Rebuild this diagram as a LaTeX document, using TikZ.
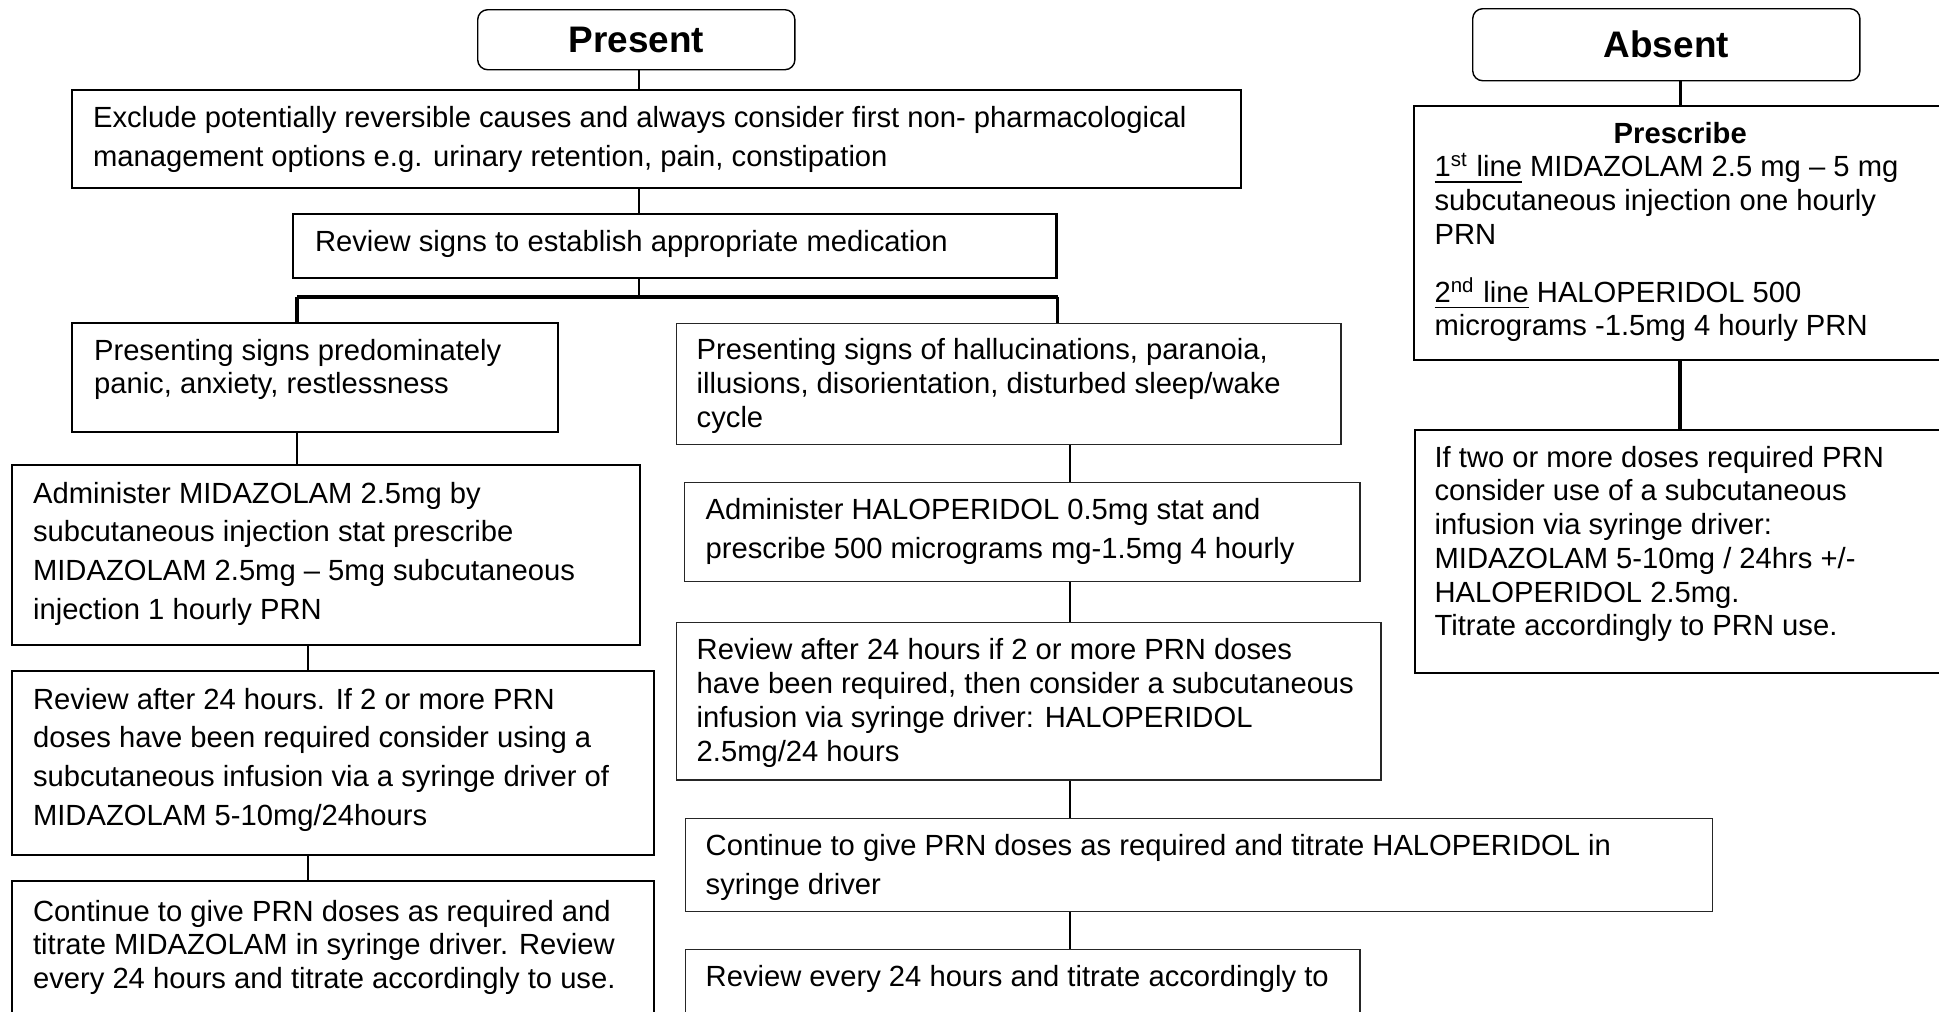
\documentclass[tikz,border=0pt]{standalone}
\usepackage{fontspec}
\setmainfont{Liberation Sans}
\usetikzlibrary{positioning}

% text block of a box: width, height, left inset, first baseline, text
\newcommand{\boxtext}[5]{\parbox[c][#2][t]{#1}{\raggedright\leftskip=#3\relax\rule{0pt}{#4}#5}}

\tikzset{
  box/.style={draw, line width=0.6pt, anchor=north west, inner sep=0pt},
  lightbox/.style={box, draw=black!85, line width=0.4pt},
  head/.style={draw, line width=0.4pt, rounded corners=0.1cm, anchor=north west,
    inner sep=0pt, font=\fontsize{10.5}{12}\selectfont\bfseries},
  wide/.style={font=\fontsize{8.3}{11}\selectfont},
  tight/.style={font=\fontsize{8.3}{9.6}\selectfont},
  link/.style={line width=0.8pt},
  barline/.style={line width=1pt}
}

\begin{document}
\begin{tikzpicture}[x=0.01cm, y=-0.01cm]
  \useasboundingbox (0,0) rectangle (1939,1012);
  \clip (0,0) rectangle (1939,1012);

  % headings
  \node[head, minimum width=3.17cm, minimum height=0.60cm] (present) at (477,9) {Present};
  \node[head, minimum width=3.87cm, minimum height=0.72cm] (absent) at (1472,8) {Absent};

  % present branch
  \node[box, wide] (exclude) at (71,89) {\boxtext{11.68cm}{0.98cm}{0.21cm}{0.377cm}{%
    Exclude potentially reversible causes and always consider first non- pharmacological\\
    management options e.g. urinary retention, pain, constipation}};
  \node[box, wide] (signs) at (292,213) {\boxtext{7.63cm}{0.64cm}{0.22cm}{0.37cm}{%
    Review signs to establish appropriate medication}};
  \node[box, tight] (panic) at (71,322) {\boxtext{4.86cm}{1.09cm}{0.22cm}{0.37cm}{%
    Presenting signs predominately\\
    panic, anxiety, restlessness}};
  \node[lightbox, tight] (halluc) at (676,323) {\boxtext{6.64cm}{1.21cm}{0.20cm}{0.36cm}{%
    Presenting signs of hallucinations, paranoia,\\
    illusions, disorientation, disturbed sleep/wake\\
    cycle}};

  % midazolam column
  \node[box, wide] (midaz) at (11,464) {\boxtext{6.28cm}{1.80cm}{0.21cm}{0.38cm}{%
    Administer MIDAZOLAM 2.5mg by\\
    subcutaneous injection stat prescribe\\
    MIDAZOLAM 2.5mg – 5mg subcutaneous\\
    injection 1 hourly PRN}};
  \node[box, wide] (midazrev) at (11,670) {\boxtext{6.42cm}{1.84cm}{0.21cm}{0.38cm}{%
    Review after 24 hours. If 2 or more PRN\\
    doses have been required consider using a\\
    subcutaneous infusion via a syringe driver of\\
    MIDAZOLAM 5-10mg/24hours}};
  \node[box, tight] (midazcont) at (11,880) {\boxtext{6.42cm}{1.60cm}{0.21cm}{0.40cm}{%
    Continue to give PRN doses as required and\\
    titrate MIDAZOLAM in syringe driver. Review\\
    every 24 hours and titrate accordingly to use.}};

  % haloperidol column
  \node[lightbox, wide] (halo) at (684,482) {\boxtext{6.75cm}{0.99cm}{0.21cm}{0.37cm}{%
    Administer HALOPERIDOL 0.5mg stat and\\
    prescribe 500 micrograms mg-1.5mg 4 hourly}};
  \node[lightbox, tight] (halorev) at (676,622) {\boxtext{7.04cm}{1.57cm}{0.20cm}{0.37cm}{%
    Review after 24 hours if 2 or more PRN doses\\
    have been required, then consider a subcutaneous\\
    infusion via syringe driver: HALOPERIDOL\\
    2.5mg/24 hours}};
  \node[lightbox, wide] (halocont) at (685,818) {\boxtext{10.26cm}{0.93cm}{0.20cm}{0.37cm}{%
    Continue to give PRN doses as required and titrate HALOPERIDOL in\\
    syringe driver}};
  \node[lightbox, wide] (haloweek) at (685,949) {\boxtext{6.74cm}{1.00cm}{0.20cm}{0.37cm}{%
    Review every 24 hours and titrate accordingly to}};

  % absent branch
  \node[box, tight] (prescribe) at (1413,105) {\boxtext{5.32cm}{2.54cm}{0.205cm}{0.37cm}{%
    {\centering\bfseries Prescribe\par}
    \underline{1\textsuperscript{st} line} MIDAZOLAM 2.5 mg – 5 mg\\
    subcutaneous injection one hourly\\
    PRN\\[0.24cm]
    \underline{2\textsuperscript{nd} line} HALOPERIDOL 500\\
    micrograms -1.5mg 4 hourly PRN}};
  \node[box, tight] (infusion) at (1414,429) {\boxtext{5.31cm}{2.43cm}{0.195cm}{0.37cm}{%
    If two or more doses required PRN\\
    consider use of a subcutaneous\\
    infusion via syringe driver:\\
    MIDAZOLAM 5-10mg / 24hrs +/-\\
    HALOPERIDOL 2.5mg.\\
    Titrate accordingly to PRN use.}};

  % connectors
  \coordinate (colM) at (639,0);
  \coordinate (barL) at (297,297);
  \coordinate (barR) at (barL -| signs.east);
  \coordinate (colL) at (308,0);
  \coordinate (colR) at (1070,0);

  \draw[link] (colM |- present.south) -- (colM |- exclude.north);
  \draw[link] (colM |- exclude.south) -- (colM |- signs.north);
  \draw[link] (colM |- signs.south) -- (colM |- barL);
  \draw[barline] (barL) -- (barR);
  \draw[barline] (barL) -- (barL |- panic.north);
  \draw[barline] (barR) -- (barR |- halluc.north);

  \draw[link] (barL |- panic.south) -- (barL |- midaz.north);
  \draw[link] (colL |- midaz.south) -- (colL |- midazrev.north);
  \draw[link] (colL |- midazrev.south) -- (colL |- midazcont.north);

  \draw[link] (colR |- halluc.south) -- (colR |- halo.north);
  \draw[link] (colR |- halo.south) -- (colR |- halorev.north);
  \draw[link] (colR |- halorev.south) -- (colR |- halocont.north);
  \draw[link] (colR |- halocont.south) -- (colR |- haloweek.north);

  \draw[link] (prescribe.north |- absent.south) -- (prescribe.north);
  \draw[barline] (prescribe.south) -- (prescribe.south |- infusion.north);
\end{tikzpicture}
\end{document}
